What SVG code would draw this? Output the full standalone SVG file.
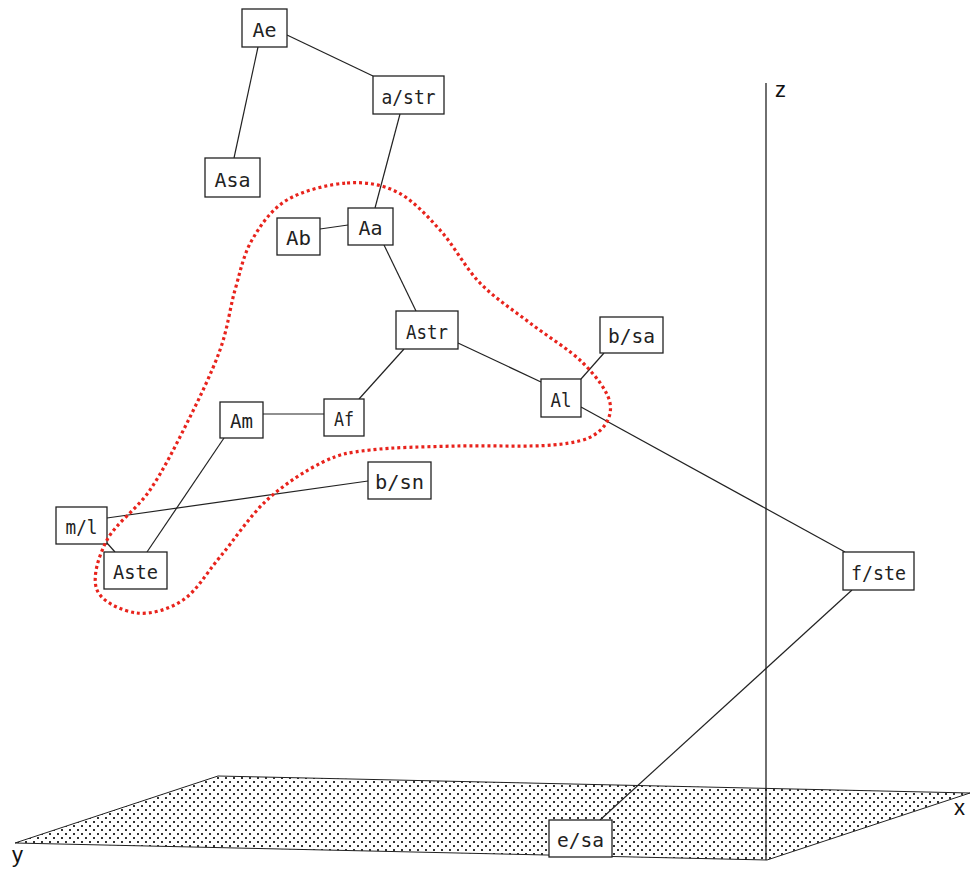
<svg xmlns="http://www.w3.org/2000/svg" width="973" height="870" viewBox="0 0 973 870">
<style>
.box{fill:#fff;stroke:#222;stroke-width:1.3}
.lbl{font-family:"DejaVu Sans Mono","Liberation Mono",monospace;font-size:20px;fill:#222;text-anchor:middle}
.ax{font-family:"Liberation Sans",Arial,sans-serif;font-size:22px;fill:#111}
#connectors line{stroke:#222;stroke-width:1.2}
</style>
<defs>
<pattern id="dots" width="8" height="8" patternUnits="userSpaceOnUse">
<rect x="1" y="1" width="2" height="2" fill="#333"/>
<rect x="5" y="5" width="2" height="2" fill="#333"/>
</pattern>
</defs>
<rect width="973" height="870" fill="#fff"/>
<g id="plane">
<polygon points="15,843 218,776 970,793 767,860" fill="url(#dots)" stroke="#222" stroke-width="1"/>
</g>
<g id="axes">
<line x1="766" y1="83" x2="766" y2="860" stroke="#222" stroke-width="1.3"/>
<text class="ax" x="775" y="97">z</text>
<text class="ax" x="954" y="815">x</text>
<text class="ax" x="12" y="862">y</text>
</g>
<g id="connectors">
<line x1="287" y1="35" x2="373" y2="76"/>
<line x1="258" y1="47" x2="234" y2="158"/>
<line x1="400" y1="114" x2="375" y2="208"/>
<line x1="320" y1="229" x2="348" y2="225"/>
<line x1="384" y1="245" x2="416" y2="311"/>
<line x1="458" y1="343" x2="541" y2="382"/>
<line x1="404" y1="349" x2="359" y2="399"/>
<line x1="263" y1="414" x2="324" y2="414"/>
<line x1="581" y1="379" x2="604" y2="353"/>
<line x1="581" y1="407" x2="845" y2="552"/>
<line x1="852" y1="590" x2="600" y2="820"/>
<line x1="224" y1="438" x2="147" y2="552"/>
<line x1="107" y1="518" x2="368" y2="481"/>
<line x1="107" y1="543" x2="115" y2="552"/>
</g>
<g id="n-Ae"><rect class="box" x="242" y="9" width="45" height="38"/><text class="lbl" x="264.5" y="37" textLength="24" lengthAdjust="spacingAndGlyphs">Ae</text></g>
<g id="n-astr"><rect class="box" x="373" y="76" width="71" height="38"/><text class="lbl" x="408.5" y="104" textLength="54" lengthAdjust="spacingAndGlyphs">a/str</text></g>
<g id="n-Asa"><rect class="box" x="205" y="158" width="55" height="39"/><text class="lbl" x="232.5" y="187" textLength="36" lengthAdjust="spacingAndGlyphs">Asa</text></g>
<g id="n-Ab"><rect class="box" x="277" y="218" width="43" height="37"/><text class="lbl" x="298.5" y="245" textLength="25" lengthAdjust="spacingAndGlyphs">Ab</text></g>
<g id="n-Aa"><rect class="box" x="348" y="208" width="45" height="37"/><text class="lbl" x="370.5" y="235" textLength="24" lengthAdjust="spacingAndGlyphs">Aa</text></g>
<g id="n-Astr"><rect class="box" x="396" y="311" width="62" height="38"/><text class="lbl" x="427" y="339" textLength="42" lengthAdjust="spacingAndGlyphs">Astr</text></g>
<g id="n-bsa"><rect class="box" x="600" y="317" width="63" height="36"/><text class="lbl" x="631.5" y="343" textLength="47" lengthAdjust="spacingAndGlyphs">b/sa</text></g>
<g id="n-Al"><rect class="box" x="541" y="379" width="40" height="38"/><text class="lbl" x="561" y="407" textLength="21" lengthAdjust="spacingAndGlyphs">Al</text></g>
<g id="n-Am"><rect class="box" x="220" y="402" width="43" height="36"/><text class="lbl" x="241.5" y="428" textLength="23" lengthAdjust="spacingAndGlyphs">Am</text></g>
<g id="n-Af"><rect class="box" x="324" y="399" width="40" height="37"/><text class="lbl" x="344" y="426" textLength="20" lengthAdjust="spacingAndGlyphs">Af</text></g>
<g id="n-bsn"><rect class="box" x="368" y="462" width="63" height="37"/><text class="lbl" x="399.5" y="489" textLength="49" lengthAdjust="spacingAndGlyphs">b/sn</text></g>
<g id="n-ml"><rect class="box" x="56" y="507" width="51" height="37"/><text class="lbl" x="81.5" y="534" textLength="32" lengthAdjust="spacingAndGlyphs">m/l</text></g>
<g id="n-Aste"><rect class="box" x="104" y="552" width="63" height="37"/><text class="lbl" x="135.5" y="579" textLength="45" lengthAdjust="spacingAndGlyphs">Aste</text></g>
<g id="n-fste"><rect class="box" x="843" y="552" width="71" height="38"/><text class="lbl" x="878.5" y="580" textLength="55" lengthAdjust="spacingAndGlyphs">f/ste</text></g>
<g id="n-esa"><rect class="box" x="549" y="820" width="63" height="37"/><text class="lbl" x="580.5" y="847" textLength="47" lengthAdjust="spacingAndGlyphs">e/sa</text></g>
<g id="cluster">
<path fill="none" stroke="#e8231c" stroke-width="3.2" stroke-dasharray="3 3" d="M347,183 C365.3,181.7 381.5,184.2 397,192 C412.5,199.8 426.2,214.8 440,230 C453.8,245.2 465,267.5 480,283 C495,298.5 512.8,309.7 530,323 C547.2,336.3 569.7,349.7 583,363 C596.3,376.3 607.7,391.3 610,403 C612.3,414.7 606.5,426 597,433 C587.5,440 576.3,442.8 553,445 C529.7,447.2 487.5,445.2 457,446 C426.5,446.8 392.3,447.3 370,450 C347.7,452.7 340.2,453.7 323,462 C305.8,470.3 284.2,484.2 267,500 C249.8,515.8 234,540.3 220,557 C206,573.7 196.8,590.7 183,600 C169.2,609.3 151.3,614.7 137,613 C122.7,611.3 102,602.2 97,590 C92,577.8 98.2,556.7 107,540 C115.8,523.3 136.7,509.5 150,490 C163.3,470.5 175.3,446.3 187,423 C198.7,399.7 212,372.2 220,350 C228,327.8 229.7,308.3 235,290 C240.3,271.7 243.3,255 252,240 C260.7,225 271.2,209.5 287,200 C302.8,190.5 328.7,184.3 347,183 Z"/>
</g>
</svg>
